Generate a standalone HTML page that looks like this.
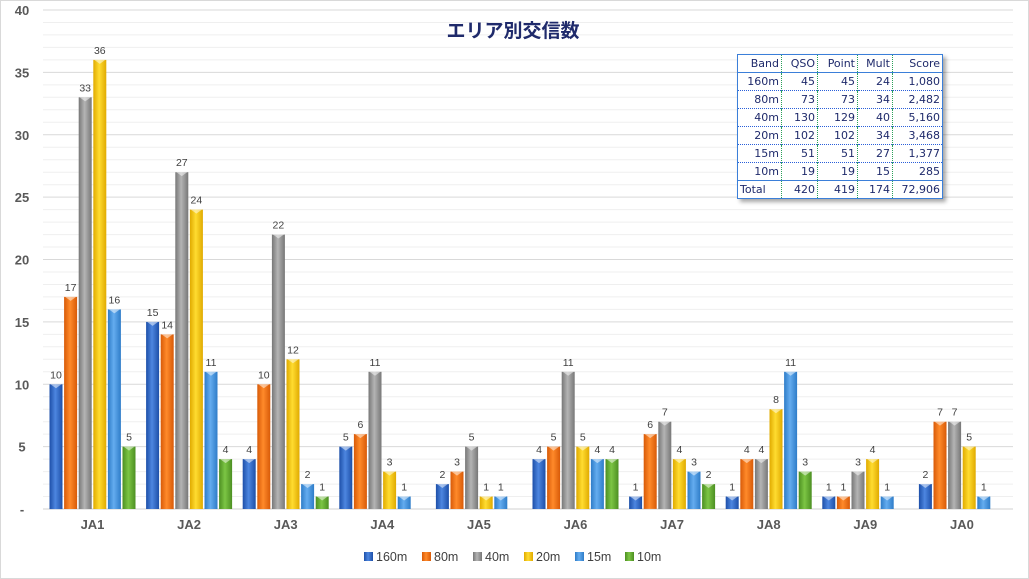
<!DOCTYPE html>
<html><head><meta charset="utf-8"><style>
html,body{margin:0;padding:0;background:#fff;}
#c{position:relative;width:1029px;height:579px;overflow:hidden;font-family:"Liberation Sans","Noto Sans CJK JP",sans-serif;}
table{position:absolute;left:737px;top:54px;border-collapse:collapse;font-size:11px;color:#1f2a6b;border:1px solid #3b7fd9;box-shadow:3px 3px 4px rgba(0,0,0,0.35);background:#fff;font-family:"DejaVu Sans","Liberation Sans",sans-serif;}
td{height:17px;padding:0 2px;text-align:right;border-left:1px dotted #2aa05a;border-top:1px dotted #2a5fd9;line-height:17px;}
tr:first-child td{border-top:none;border-bottom:1px solid #3b7fd9;}
tr.tot td{border-top:1px solid #3b7fd9;}
td:first-child{border-left:none;}
</style></head><body><div id="c">
<svg id="s" width="1029" height="579" style="position:absolute;left:0;top:0" font-family="Liberation Sans, Noto Sans CJK JP, sans-serif"></svg>
<table>
<tr><td style="width:39px">Band</td><td style="width:31px">QSO</td><td style="width:35px">Point</td><td style="width:30px">Mult</td><td style="width:45px">Score</td></tr>
<tr><td>160m</td><td>45</td><td>45</td><td>24</td><td>1,080</td></tr>
<tr><td>80m</td><td>73</td><td>73</td><td>34</td><td>2,482</td></tr>
<tr><td>40m</td><td>130</td><td>129</td><td>40</td><td>5,160</td></tr>
<tr><td>20m</td><td>102</td><td>102</td><td>34</td><td>3,468</td></tr>
<tr><td>15m</td><td>51</td><td>51</td><td>27</td><td>1,377</td></tr>
<tr><td>10m</td><td>19</td><td>19</td><td>15</td><td>285</td></tr>
<tr class="tot"><td style="text-align:left">Total</td><td>420</td><td>419</td><td>174</td><td>72,906</td></tr>
</table>
</div>
<script>
var s=document.getElementById('s');var h='';
var cols=[['#1d4fa8','#4d86e0'],['#d85a08','#ff8a2a'],['#777','#b4b4b4'],['#e0aa00','#ffdc30'],['#2e7cc8','#64acef'],['#4c8f22','#7cc544']];
h+='<defs>';cols.forEach(function(c,i){h+='<linearGradient id="g'+i+'" x1="0" x2="1"><stop offset="0" stop-color="'+c[0]+'"/><stop offset="0.45" stop-color="'+c[1]+'"/><stop offset="1" stop-color="'+c[0]+'"/></linearGradient>';});h+='</defs>';
h+='<rect x="0.5" y="0.5" width="1028" height="578" fill="#fff" stroke="#d9d9d9"/>';
var y0=509,k=12.475;
for(var v=1;v<=40;v++){var y=y0-v*k;h+='<line x1="43" x2="1013" y1="'+y.toFixed(1)+'" y2="'+y.toFixed(1)+'" stroke="'+(v%5==0?'#d9d9d9':'#efefef')+'"/>';}
h+='<line x1="43" x2="1013" y1="509" y2="509" stroke="#d0d0d0"/>';
for(var v=0;v<=40;v+=5){h+='<text x="22" y="'+(y0-v*k+5)+'" text-anchor="middle" font-size="13" font-weight="bold" fill="#595959">'+(v==0?'-':v)+'</text>';}
var d=[[10,17,33,36,16,5],[15,14,27,24,11,4],[4,10,22,12,2,1],[5,6,11,3,1,0],[2,3,5,1,1,0],[4,5,11,5,4,4],[1,6,7,4,3,2],[1,4,4,8,11,3],[1,1,3,4,1,0],[2,7,7,5,1,0]];
var n=['JA1','JA2','JA3','JA4','JA5','JA6','JA7','JA8','JA9','JA0'];
d.forEach(function(g,i){var x0=49.5+i*96.6;g.forEach(function(v,j){if(!v)return;var x=x0+j*14.6,t=y0-v*k;
h+='<rect x="'+x.toFixed(1)+'" y="'+t.toFixed(1)+'" width="13" height="'+(v*k).toFixed(1)+'" fill="url(#g'+j+')"/>';
h+='<path d="M'+(x+1)+' '+t+' L'+(x+12)+' '+t+' L'+(x+6.5)+' '+(t+4)+'Z" fill="#fff" opacity="0.5"/>';
h+='<text x="'+(x+6.5)+'" y="'+(t-6)+'" text-anchor="middle" font-size="10.5" fill="#404040">'+v+'</text>';});
h+='<text x="'+(x0+43)+'" y="529" text-anchor="middle" font-size="13" font-weight="bold" fill="#595959">'+n[i]+'</text>';});
h+='<text x="513" y="37" text-anchor="middle" font-size="19" font-weight="bold" fill="#1f2a6b">エリア別交信数</text>';
var L=['160m','80m','40m','20m','15m','10m'],lx=[364,422,473,524,575,625];
L.forEach(function(t,i){h+='<rect x="'+lx[i]+'" y="552" width="9" height="9" fill="url(#g'+i+')"/><text x="'+(lx[i]+12)+'" y="561" font-size="12.5" fill="#404040">'+t+'</text>';});
s.innerHTML=h;
</script></body></html>
